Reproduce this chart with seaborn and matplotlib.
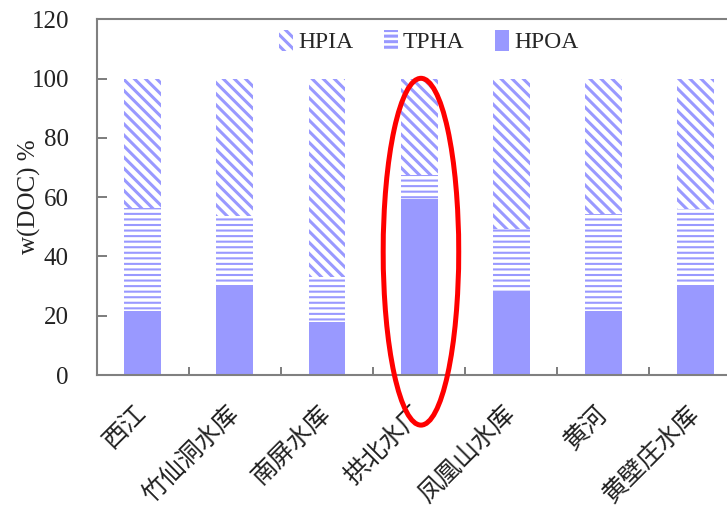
import matplotlib
matplotlib.use("Agg")
import matplotlib.pyplot as plt
from matplotlib.patches import Ellipse, Patch
import numpy as np
import seaborn as sns

# Organic matter fractions of DOC (%), per water source
sites = ["西江", "竹仙洞水库", "南屏水库", "拱北水厂", "凤凰山水库", "黄河", "黄壁庄水库"]
hpoa = [21.5, 30.2, 18.0, 59.3, 28.2, 21.5, 30.2]
tpha = [35.0, 23.5, 15.2, 8.2, 20.9, 32.8, 25.7]
hpia = [43.5, 46.3, 66.8, 32.5, 50.9, 45.7, 44.1]
series_names = ["HPIA", "TPHA", "HPOA"]
yticks = [0, 20, 40, 60, 80, 100, 120]

sns.set_theme(style="white")
plt.rcParams["font.family"] = ["Liberation Serif", "DejaVu Serif"]
plt.rcParams["hatch.linewidth"] = 2.2

fig = plt.figure(figsize=(7.27, 5.14), dpi=100)
ax = fig.add_axes([0.133, 0.2704, 0.887, 0.692])

color = "#9999FF"
hpoa_a = np.array(hpoa)
tpha_a = np.array(tpha)
hpia_a = np.array(hpia)

diag = "\\\\\\"
horiz = "---"
layers = [
    (hpoa_a, np.zeros_like(hpoa_a), None, color),
    (tpha_a, hpoa_a, horiz, "white"),
    (hpia_a, hpoa_a + tpha_a, diag, "white"),
]
for vals, base, hatch, face in layers:
    before = len(ax.patches)
    sns.barplot(x=sites, y=vals, bottom=base, width=0.4, color=face,
                edgecolor=color, linewidth=0, hatch=hatch, ax=ax,
                saturation=1)
    for p in ax.patches[before:]:
        p.set_facecolor(face)
        p.set_edgecolor(color)
        p.set_linewidth(0)
        if hatch == horiz and hasattr(p, "set_hatch_linewidth"):
            p.set_hatch_linewidth(1.5)

ax.set_xlim(-0.5, 6.5)
ax.set_ylim(0, 120)
ax.set_yticks(yticks)
ax.set_yticklabels([str(t) for t in yticks], fontsize=18, color="#222222")
ax.set_xticks(np.arange(-0.5, 6.6, 1.0), minor=True)
ax.set_xticks(np.arange(len(sites)))
ax.set_xticklabels(sites, rotation=45, ha="right", va="center",
                   rotation_mode="anchor", fontsize=18, color="#222222",
                   family=["Noto Sans CJK SC", "DejaVu Sans"])

ax.tick_params(axis="x", which="major", length=0, pad=25)
ax.tick_params(axis="x", which="minor", direction="in", length=6,
               width=1.2, color="#666666", bottom=True)
ax.tick_params(axis="y", direction="in", length=7, width=1.2,
               color="#666666", left=True, pad=20)

for side, sp in ax.spines.items():
    sp.set_color("#808080")
    sp.set_linewidth(1.5)
    sp.set_visible(True)

ax.set_ylabel("w(DOC) %", fontsize=18, color="#222222")
ax.yaxis.set_label_coords(-0.087, 0.5)

handles = [Patch(facecolor="white", edgecolor=color, linewidth=0, hatch=diag),
           Patch(facecolor="white", edgecolor=color, linewidth=0, hatch=horiz),
           Patch(facecolor=color, edgecolor=color, linewidth=0)]
ax.legend(handles, series_names, loc="center", bbox_to_anchor=(0.515, 0.9375),
          ncol=3, frameon=False, fontsize=17, handlelength=0.6,
          handleheight=1.0, handletextpad=0.2, columnspacing=1.3)

ell = Ellipse((3.02, 41.6), width=0.82, height=117, fill=False,
              edgecolor="#FF0000", linewidth=3.6, clip_on=False, zorder=10)
ax.add_patch(ell)

fig.savefig("out.png", dpi=100)
